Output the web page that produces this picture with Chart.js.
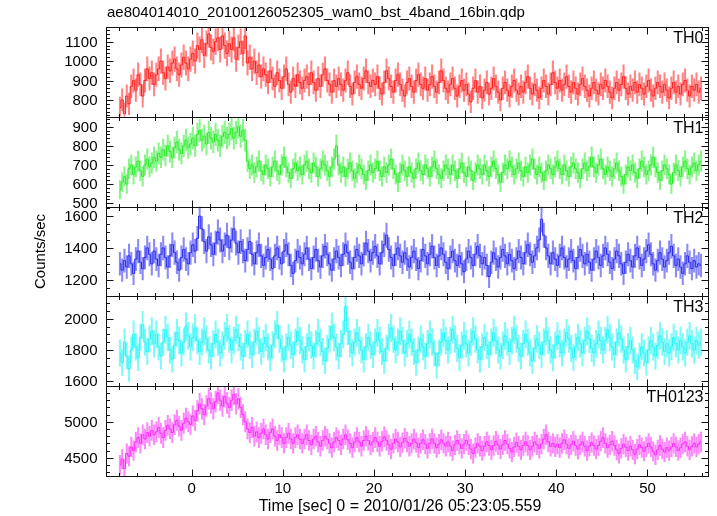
<!DOCTYPE html>
<html><head><meta charset="utf-8">
<script src="https://cdn.jsdelivr.net/npm/chart.js@4/dist/chart.umd.min.js"></script>
<style>html,body{margin:0;padding:0;background:#fff;}canvas{display:block;}</style>
</head><body>
<canvas id="c" width="717" height="516"></canvas>
<script>
const plotTitle = "ae804014010_20100126052305_wam0_bst_4band_16bin.qdp";
const xTitle = "Time [sec] 0 = 2010/01/26 05:23:05.559";
const yTitle = "Counts/sec";
const bandNames = ["TH0", "TH1", "TH2", "TH3", "TH0123"];
const binWidth = 0.25;   // s
const tStart = -8;       // s, start of first bin

const th0 = [
760,800,730,820,780,870,900,850,930,880,820,900,960,910,940,880,
930,960,1000,940,910,970,950,990,1010,960,930,980,1020,990,960,1010,
1040,1000,1080,1060,1110,1030,1090,1140,1070,1050,1100,1120,1060,1130,1080,1040,
1090,1060,1120,1010,1070,1100,1040,1130,990,1020,960,1000,940,980,920,960,
930,890,950,910,870,940,900,860,920,960,880,840,910,870,930,890,
860,900,920,880,940,890,850,910,870,930,960,900,880,840,900,870,
910,880,850,900,940,870,830,890,920,880,860,910,950,890,870,900,
880,920,860,830,890,950,910,870,840,900,930,880,850,820,890,910,
870,840,900,930,880,860,910,850,880,920,870,840,890,950,900,860,
840,880,910,860,820,870,900,850,880,830,790,860,900,840,870,810,
850,890,830,860,910,870,840,800,860,890,850,820,870,900,850,830,
870,840,890,920,860,830,880,850,810,860,900,870,830,880,940,890,
860,900,850,880,920,870,840,890,860,830,880,910,870,850,820,860,
890,850,830,880,860,900,870,840,810,860,890,850,880,920,860,830,
870,850,890,840,880,860,830,870,900,850,820,860,890,870,840,880,
850,810,860,890,840,870,830,880,900,850,820,870,850,880,840,860];

const th1 = [
570,610,640,600,680,700,650,690,720,670,640,700,730,690,710,740,
720,760,740,780,750,800,770,740,790,820,780,760,800,830,790,810,
840,800,860,880,830,850,810,870,840,820,860,830,800,850,870,840,
860,890,840,870,900,850,880,830,720,680,700,660,690,720,670,650,
700,680,640,690,720,670,650,700,740,690,660,630,680,710,670,690,
650,700,720,680,660,710,690,640,680,720,700,670,640,690,730,800,
700,660,690,640,680,710,670,630,660,700,680,650,620,670,700,660,
680,720,670,640,690,660,700,730,680,650,610,660,700,670,640,690,
660,630,680,710,670,650,700,680,640,690,720,680,650,630,670,700,
680,650,700,670,630,680,710,660,640,690,670,620,660,700,680,650,
700,670,640,690,720,680,650,610,660,700,680,720,690,650,680,710,
670,640,690,660,700,730,680,650,690,660,620,670,700,680,650,690,
720,680,650,700,670,640,690,710,680,660,630,680,710,670,690,740,
690,660,700,730,680,650,690,670,640,680,710,670,640,600,650,690,
670,700,660,630,680,720,690,650,670,700,740,690,660,620,670,700,
680,650,600,660,700,670,640,690,720,680,650,690,710,670,700,720];

const th2 = [
1300,1260,1320,1280,1350,1300,1240,1330,1380,1310,1270,1340,1400,1360,1300,1380,
1330,1290,1360,1400,1340,1280,1350,1420,1370,1310,1260,1340,1390,1330,1300,1370,
1420,1380,1460,1600,1520,1440,1380,1470,1420,1360,1430,1500,1450,1380,1420,1480,
1400,1450,1520,1430,1370,1440,1380,1320,1390,1440,1360,1300,1370,1420,1350,1290,
1340,1390,1330,1270,1350,1400,1340,1300,1380,1420,1360,1290,1240,1320,1380,1340,
1300,1360,1400,1330,1270,1340,1390,1320,1280,1350,1410,1360,1300,1260,1330,1380,
1340,1290,1360,1420,1370,1310,1270,1340,1390,1350,1300,1360,1430,1380,1320,1370,
1410,1350,1300,1370,1420,1480,1390,1340,1290,1360,1400,1350,1310,1370,1330,1280,
1340,1380,1330,1270,1320,1390,1350,1300,1360,1410,1340,1290,1350,1400,1360,1310,
1270,1340,1380,1320,1290,1350,1300,1250,1330,1380,1340,1290,1360,1410,1350,1300,
1340,1290,1220,1310,1370,1330,1280,1340,1390,1350,1300,1360,1320,1270,1330,1380,
1340,1300,1370,1420,1360,1310,1350,1400,1450,1580,1480,1400,1350,1300,1370,1330,
1290,1350,1400,1340,1280,1330,1380,1320,1270,1340,1390,1350,1300,1360,1310,1260,
1330,1380,1340,1290,1350,1400,1360,1310,1270,1330,1380,1350,1300,1240,1310,1360,
1320,1280,1350,1400,1340,1290,1330,1380,1420,1360,1300,1260,1320,1370,1330,1280,
1320,1370,1410,1350,1290,1330,1280,1240,1300,1350,1310,1270,1320,1280,1300,1290];

const th3 = [
1780,1720,1850,1760,1680,1800,1900,1820,1750,1880,1960,1850,1790,1870,1920,1840,
1900,1820,1760,1850,1930,1880,1800,1740,1830,1910,1860,1780,1850,1950,1890,1820,
1880,1940,1860,1790,1850,1920,1870,1800,1760,1840,1900,1850,1780,1830,1890,1940,
1870,1800,1860,1930,1880,1820,1760,1840,1900,1830,1770,1850,1920,1860,1790,1840,
1880,1820,1750,1830,1900,1960,1870,1810,1740,1820,1880,1830,1770,1850,1920,1860,
1800,1740,1820,1880,1830,1760,1840,1910,1850,1790,1730,1810,1870,1950,1880,1820,
1760,1840,1900,2080,1920,1840,1780,1850,1910,1860,1800,1740,1820,1880,1830,1770,
1850,1910,1860,1790,1730,1810,1880,1940,1870,1800,1850,1920,1860,1780,1840,1900,
1850,1790,1720,1800,1870,1820,1760,1840,1900,1850,1780,1700,1780,1850,1910,1860,
1800,1860,1930,1870,1810,1750,1830,1890,1840,1780,1850,1920,1870,1800,1740,1820,
1880,1830,1770,1850,1910,1860,1800,1760,1830,1890,1850,1790,1860,1930,1870,1810,
1760,1840,1900,1850,1780,1730,1810,1870,1830,1770,1850,1920,1860,1800,1750,1830,
1890,1840,1780,1850,1910,1870,1810,1750,1820,1880,1840,1780,1860,1920,1870,1810,
1780,1840,1900,1860,1800,1860,1930,1880,1820,1770,1850,1910,1870,1800,1740,1820,
1860,1800,1730,1690,1760,1820,1780,1720,1800,1860,1820,1760,1830,1890,1850,1790,
1840,1780,1820,1880,1840,1800,1860,1820,1780,1850,1890,1840,1800,1860,1830,1850];

const th0123 = [
4400,4480,4350,4560,4520,4650,4600,4720,4780,4700,4820,4760,4850,4800,4880,4820,
4860,4920,4840,4780,4880,4950,4900,4850,4960,5020,4940,4880,4980,5050,5000,4960,
5080,5020,5150,5250,5180,5100,5220,5320,5260,5180,5280,5400,5300,5220,5350,5260,
5200,5300,5380,5250,5320,5200,5100,5000,4900,4850,4920,4800,4860,4780,4840,4900,
4820,4760,4850,4900,4800,4740,4820,4780,4700,4780,4840,4760,4700,4780,4820,4760,
4700,4760,4820,4740,4680,4760,4800,4720,4660,4740,4800,4760,4700,4640,4720,4780,
4740,4680,4760,4820,4750,4700,4640,4720,4780,4720,4660,4740,4800,4740,4680,4720,
4780,4720,4660,4730,4790,4740,4680,4620,4700,4760,4720,4650,4710,4770,4720,4660,
4700,4760,4710,4640,4700,4750,4690,4630,4700,4760,4700,4640,4690,4750,4700,4660,
4720,4660,4600,4680,4740,4690,4630,4690,4740,4680,4620,4560,4640,4700,4660,4600,
4660,4720,4670,4610,4670,4730,4680,4620,4680,4740,4690,4630,4580,4650,4710,4660,
4610,4670,4720,4670,4610,4660,4720,4680,4630,4690,4760,4820,4720,4660,4700,4650,
4690,4640,4700,4750,4690,4630,4680,4730,4670,4620,4680,4720,4660,4600,4660,4710,
4670,4620,4670,4730,4780,4700,4640,4680,4730,4670,4610,4560,4630,4690,4650,4600,
4660,4610,4550,4620,4680,4640,4590,4650,4700,4650,4590,4540,4610,4670,4620,4580,
4640,4600,4650,4700,4650,4600,4640,4690,4720,4660,4610,4660,4700,4650,4690,4720];

const series = [th0, th1, th2, th3, th0123];

// axis ranges and tick steps per panel
const yMins = [713, 482, 1095, 1567, 4246];
const yMaxs = [1176, 952, 1660, 2144, 5495];
const yMajor = [100, 100, 200, 200, 500];
const yMinor = [20, 20, 50, 50, 100];
const xMin = -9.4, xMax = 56.75, xMajor = 10, xMinor = 2;

const lineColors = ["rgb(255,30,30)", "rgb(40,235,40)", "rgb(40,40,240)", "rgb(40,245,245)", "rgb(250,40,250)"];
const barColors = ["rgba(255,30,30,0.55)", "rgba(40,235,40,0.55)", "rgba(40,40,240,0.55)", "rgba(40,245,245,0.6)", "rgba(250,40,250,0.55)"];

const FONT = "'Liberation Sans', Arial, Helvetica, sans-serif";

const datasets = [];
series.forEach((vals, k) => {
  const t = vals.map((_, i) => tStart + (i + 0.5) * binWidth);
  datasets.push({
    type: 'bar', yAxisID: 'y' + k,
    data: vals.map((v, i) => { const e = Math.sqrt(v / binWidth); return {x: t[i], y: [v - e, v + e]}; }),
    backgroundColor: barColors[k], borderWidth: 0, barThickness: 1.4, grouped: false, order: 2
  });
  datasets.push({
    type: 'line', yAxisID: 'y' + k,
    data: vals.map((v, i) => ({x: t[i], y: v})),
    borderColor: lineColors[k], borderWidth: 1, pointRadius: 0, stepped: 'middle', fill: false, order: 1
  });
});

function stepValues(min, max, step) {
  const out = [];
  for (let j = Math.ceil(min / step); j <= Math.floor(max / step); j++) out.push(j * step);
  return out;
}

const scales = {
  x: {
    type: 'linear', position: 'bottom', min: xMin, max: xMax, offset: false, bounds: 'data',
    ticks: {autoSkip: false, maxRotation: 0, padding: 4, color: '#000',
            font: {family: FONT, size: 15}, callback: v => String(v)},
    afterBuildTicks(s) { s.ticks = stepValues(xMin, xMax, xMajor).map(v => ({value: v})); },
    grid: {display: false, drawTicks: false, offset: false}, border: {display: false},
    afterFit(s) { s.height = 40; s.paddingLeft = 0; s.paddingRight = 0; }
  }
};
for (let k = 4; k >= 0; k--) {
  scales['y' + k] = {
    type: 'linear', position: 'left', stack: 'panels', stackWeight: 1, bounds: 'data',
    min: yMins[k], max: yMaxs[k], beginAtZero: false,
    ticks: {display: false},
    grid: {display: false, drawTicks: false}, border: {display: false},
    afterFit(s) { s.width = 106; s.paddingTop = 0; s.paddingBottom = 0; }
  };
}

const decor = {
  id: 'decor',
  beforeDatasetDraw(chart, args) {
    const ys = args.meta.yScale, xs = chart.scales.x, ctx = chart.ctx;
    ctx.save(); ctx.beginPath();
    ctx.rect(xs.left, ys.top, xs.right - xs.left, ys.bottom - ys.top); ctx.clip();
  },
  afterDatasetDraw(chart) { chart.ctx.restore(); },
  afterDatasetsDraw(chart) {
    const ctx = chart.ctx, xs = chart.scales.x;
    ctx.save();
    ctx.strokeStyle = '#111'; ctx.lineWidth = 1;
    const L = Math.round(xs.left) + 0.5, R = Math.round(xs.right) - 0.5;
    const seg = (x1, y1, x2, y2) => { ctx.beginPath(); ctx.moveTo(x1, y1); ctx.lineTo(x2, y2); ctx.stroke(); };
    let top = 1e9, bottom = -1e9;
    for (let k = 0; k < 5; k++) {
      const ys = chart.scales['y' + k];
      top = Math.min(top, ys.top); bottom = Math.max(bottom, ys.bottom);
      const T = Math.round(ys.top) + 0.5, B = Math.round(ys.bottom) + 0.5;
      ctx.strokeRect(L, T, R - L, B - T);
      stepValues(xMin, xMax, xMinor).forEach(v => {
        const px = Math.round(xs.getPixelForValue(v)) + 0.5;
        const len = (v % xMajor === 0) ? 7 : 3.5;
        seg(px, T, px, T + len); seg(px, B, px, B - len);
      });
      stepValues(yMins[k], yMaxs[k], yMinor[k]).forEach(v => {
        const py = Math.round(ys.getPixelForValue(v)) + 0.5;
        const len = (v % yMajor[k] === 0) ? 7 : 3.5;
        seg(L, py, L + len, py); seg(R, py, R - len, py);
      });
      // y tick labels, placed through the panel's y scale
      ctx.fillStyle = '#000'; ctx.font = '15px ' + FONT;
      ctx.textAlign = 'right'; ctx.textBaseline = 'middle';
      stepValues(yMins[k], yMaxs[k], yMajor[k]).forEach(v => {
        ctx.fillText(String(v), L - 9, ys.getPixelForValue(v) + 1);
      });
      // band label
      ctx.font = '16px ' + FONT;
      ctx.textAlign = 'right'; ctx.textBaseline = 'alphabetic';
      ctx.fillText(bandNames[k], R - 5, ys.top + 16);
    }
    ctx.fillStyle = '#000';
    ctx.font = '15px ' + FONT; ctx.textAlign = 'left'; ctx.textBaseline = 'middle';
    ctx.fillText(plotTitle, 107, 13);
    ctx.font = '16px ' + FONT; ctx.textAlign = 'center';
    ctx.fillText(xTitle, 400, 507);
    ctx.font = '15px ' + FONT;
    ctx.save();
    ctx.translate(41, (top + bottom) / 2); ctx.rotate(-Math.PI / 2);
    ctx.fillText(yTitle, 0, 0);
    ctx.restore();
    ctx.restore();
  }
};

new Chart(document.getElementById('c'), {
  type: 'line',
  data: {datasets},
  options: {
    responsive: false, animation: false, devicePixelRatio: 1, events: [],
    layout: {padding: {top: 27, right: 8, left: 0, bottom: 0}},
    plugins: {legend: {display: false}, tooltip: {enabled: false}, title: {display: false}},
    scales
  },
  plugins: [decor]
});
</script>
</body></html>
